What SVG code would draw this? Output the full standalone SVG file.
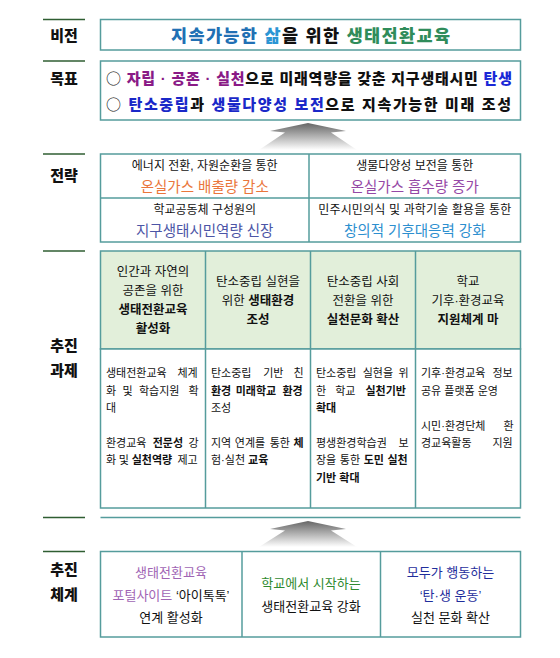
<svg xmlns="http://www.w3.org/2000/svg" width="560" height="658" viewBox="0 0 560 658">
<style>
text{font-family:"Liberation Sans","Noto Sans CJK KR",sans-serif;fill:#111}
.lab{font-size:15px;font-weight:900;text-anchor:middle}
.box{fill:#fff;stroke:#559c9c;stroke-width:1.5}
.hdr{fill:#e2efda;stroke:#559c9c;stroke-width:1.5}
.div{stroke:#559c9c;stroke-width:1.5;fill:none}
.ll{stroke:#2f5e32;stroke-width:1.5}
.vis{font-size:17.5px;font-weight:900}
.goal{font-size:15px;font-weight:900}
.circ{font-family:"Noto Sans CJK KR",sans-serif;font-weight:400}
.s1{font-size:12px;text-anchor:middle}
.s2{font-size:14.5px;text-anchor:middle}
.hd{font-size:12.5px;text-anchor:middle}
.bd{font-size:11px}
.sy{font-size:13px;text-anchor:middle}
.b{font-weight:700}
</style>
<defs>
<linearGradient id="ag" x1="0" y1="0" x2="0" y2="1">
<stop offset="0" stop-color="#666"/>
<stop offset="1" stop-color="#fff"/>
</linearGradient>
</defs>

<g id="labels">
<line class="ll" x1="43" y1="19.5" x2="85" y2="19.5"/>
<line class="ll" x1="43" y1="61" x2="85" y2="61"/>
<line class="ll" x1="43" y1="154" x2="85" y2="154"/>
<line class="ll" x1="43" y1="251" x2="85" y2="251"/>
<line class="ll" x1="43" y1="517.5" x2="85" y2="517.5"/>
<line class="ll" x1="43" y1="551.5" x2="85" y2="551.5"/>
<text class="lab" x="64" y="40.5">비전</text>
<text class="lab" x="64" y="83.5">목표</text>
<text class="lab" x="64" y="180.5">전략</text>
<text class="lab" x="64" y="350.5">추진</text>
<text class="lab" x="64" y="375.5">과제</text>
<text class="lab" x="64" y="574.5">추진</text>
<text class="lab" x="64" y="599.5">체계</text>
</g>

<g id="vision">
<rect class="box" x="100.5" y="19.5" width="420" height="30.5"/>
<text class="vis" x="171" y="41.5" textLength="279" lengthAdjust="spacing"><tspan fill="#2170b4">지속가능한 </tspan><tspan fill="#2b95d4">삶</tspan><tspan fill="#111">을 위한 </tspan><tspan fill="#2f8c5a">생태전환교육</tspan></text>
</g>

<g id="goals">
<rect class="box" x="100.5" y="61" width="420" height="59"/>
<text class="goal" x="106" y="83.5" textLength="406" lengthAdjust="spacing"><tspan class="circ">○</tspan> <tspan fill="#8a1a86">자립 · 공존 · 실천</tspan>으로 미래역량을 갖춘 지구생태시민 <tspan fill="#1a28d6">탄생</tspan></text>
<text class="goal" x="106" y="109.5" textLength="405" lengthAdjust="spacing"><tspan class="circ">○</tspan> <tspan fill="#1a28c8">탄소중립</tspan>과 <tspan fill="#1a28c8">생물다양성 보전</tspan>으로 지속가능한 미래 조성</text>
</g>

<g id="connectors">
<polygon fill="url(#ag)" points="308,123 346,131 331,132.5 357,150 259,150 285,132.5 270,131"/>
<polygon fill="url(#ag)" points="308,521 346,529 331,530.5 357,547 259,547 285,530.5 270,529"/>
</g>

<g id="strategy">
<rect class="box" x="100.5" y="154" width="420" height="88"/>
<line class="div" x1="100.5" y1="198" x2="520.5" y2="198"/>
<line class="div" x1="309" y1="154" x2="309" y2="242"/>
<text class="s1" x="204.75" y="169.5">에너지 전환, 자원순환을 통한</text>
<text class="s2" x="204.75" y="192" style="fill:#ea763b">온실가스 배출량 감소</text>
<text class="s1" x="414.75" y="169.5">생물다양성 보전을 통한</text>
<text class="s2" x="414.75" y="192" style="fill:#9548a6">온실가스 흡수량 증가</text>
<text class="s1" x="204.75" y="213.5">학교공동체 구성원의</text>
<text class="s2" x="204.75" y="236" style="fill:#4c55a6">지구생태시민역량 신장</text>
<text class="s1" x="414.75" y="213.5" textLength="193" lengthAdjust="spacing">민주시민의식 및 과학기술 활용을 통한</text>
<text class="s2" x="414.75" y="236" style="fill:#2d8fcf">창의적 기후대응력 강화</text>
</g>

<g id="tasks">
<rect class="hdr" x="100.5" y="251" width="420" height="98"/>
<rect class="box" x="100.5" y="349" width="420" height="159"/>
<line class="div" x1="205.5" y1="251" x2="205.5" y2="508"/>
<line class="div" x1="310.5" y1="251" x2="310.5" y2="508"/>
<line class="div" x1="415.5" y1="251" x2="415.5" y2="508"/>

<text class="hd" x="153" y="276">인간과 자연의</text>
<text class="hd" x="153" y="295">공존을 위한</text>
<text class="hd b" x="153" y="314">생태전환교육</text>
<text class="hd b" x="153" y="333">활성화</text>

<text class="hd" x="258" y="285.5">탄소중립 실현을</text>
<text class="hd" x="258" y="304.5">위한 <tspan class="b">생태환경</tspan></text>
<text class="hd b" x="258" y="323.5">조성</text>

<text class="hd" x="363" y="285.5">탄소중립 사회</text>
<text class="hd" x="363" y="304.5">전환을 위한</text>
<text class="hd b" x="363" y="323.5">실천문화 확산</text>

<text class="hd" x="468" y="285.5">학교</text>
<text class="hd" x="468" y="304.5">기후·환경교육</text>
<text class="hd b" x="468" y="323.5">지원체계 마</text>

<text class="bd" y="377"><tspan x="106">생태전환교육</tspan><tspan x="177.5">체계</tspan></text>
<text class="bd" y="394.5"><tspan x="106">화</tspan><tspan x="122.5">및</tspan><tspan x="139">학습지원</tspan><tspan x="188.5">확</tspan></text>
<text class="bd" x="106" y="412">대</text>
<text class="bd" y="446.5"><tspan x="106">환경교육</tspan><tspan x="152.75" class="b">전문성</tspan><tspan x="188.5">강</tspan></text>
<text class="bd" y="464"><tspan x="106">화</tspan><tspan x="118.8">및</tspan><tspan x="131.7" class="b">실천역량</tspan><tspan x="177.5">제고</tspan></text>

<text class="bd" y="377"><tspan x="211">탄소중립</tspan><tspan x="263.25">기반</tspan><tspan x="293.5">친</tspan></text>
<text class="bd b" y="394.5"><tspan x="211">환경</tspan><tspan x="235.75">미래학교</tspan><tspan x="282.5">환경</tspan></text>
<text class="bd" x="211" y="412">조성</text>
<text class="bd" y="446.5"><tspan x="211">지역</tspan><tspan x="234.8">연계를</tspan><tspan x="269.7">통한</tspan><tspan x="293.5" class="b">체</tspan></text>
<text class="bd" x="211" y="464">험·실천 <tspan class="b">교육</tspan></text>

<text class="bd" y="377"><tspan x="316">탄소중립</tspan><tspan x="362.75">실현을</tspan><tspan x="398.5">위</tspan></text>
<text class="bd" y="394.5"><tspan x="316">한</tspan><tspan x="335.25">학교</tspan><tspan x="365.5" class="b">실천기반</tspan></text>
<text class="bd b" x="316" y="412">확대</text>
<text class="bd" y="446.5"><tspan x="316">평생환경학습권</tspan><tspan x="398.5">보</tspan></text>
<text class="bd" y="464"><tspan x="316">장을</tspan><tspan x="339.8">통한</tspan><tspan x="363.7" class="b">도민</tspan><tspan x="387.5" class="b">실천</tspan></text>
<text class="bd b" x="316" y="481.5">기반 확대</text>

<text class="bd" y="377"><tspan x="421">기후·환경교육</tspan><tspan x="492.5">정보</tspan></text>
<text class="bd" x="421" y="394.5">공유 플랫폼 운영</text>
<text class="bd" y="429.5"><tspan x="421">시민·환경단체</tspan><tspan x="503.5">환</tspan></text>
<text class="bd" y="446.5"><tspan x="421">경교육활동</tspan><tspan x="492.5">지원</tspan></text>
</g>

<g id="separator">
<line class="div" x1="100.5" y1="517.5" x2="520.5" y2="517.5"/>
</g>

<g id="system">
<rect class="box" x="100.5" y="551.5" width="420" height="85.5"/>
<line class="div" x1="242" y1="551.5" x2="242" y2="637"/>
<line class="div" x1="380.5" y1="551.5" x2="380.5" y2="637"/>
<text class="sy" x="171" y="577" style="fill:#a064b4">생태전환교육</text>
<text class="sy" x="171" y="599.5"><tspan style="fill:#a064b4">포털사이트 </tspan>‘아이톡톡’</text>
<text class="sy" x="171" y="622">연계 활성화</text>
<text class="sy" x="311" y="588" style="fill:#2f8a2f">학교에서 시작하는</text>
<text class="sy" x="311" y="611">생태전환교육 강화</text>
<text class="sy" x="450.5" y="577" style="fill:#1f2e9c">모두가 행동하는</text>
<text class="sy" x="450.5" y="599.5" style="fill:#1f2e9c">‘탄·생 운동’</text>
<text class="sy" x="450.5" y="622">실천 문화 확산</text>
</g>
</svg>
